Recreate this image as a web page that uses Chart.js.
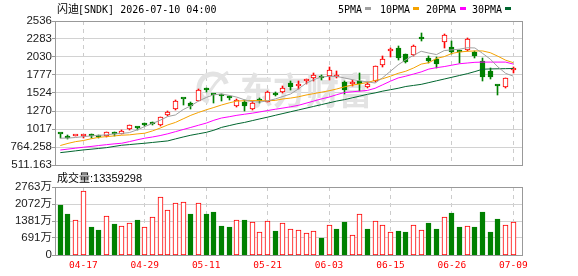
<!DOCTYPE html>
<html><head><meta charset="utf-8">
<script src="https://cdn.jsdelivr.net/npm/chart.js@4.4.1/dist/chart.umd.min.js"></script>
<style>
html,body{margin:0;padding:0;background:#fff;width:578px;height:276px;overflow:hidden}
#c1{position:absolute;left:0;top:0}
#c2{position:absolute;left:0;top:170px}
</style></head><body>
<canvas id="c1" width="578" height="176"></canvas>
<canvas id="c2" width="578" height="106"></canvas>
<script>
const dates = ["04-14","04-15","04-16","04-17","04-20","04-21","04-22","04-23","04-24","04-27","04-28","04-29","04-30","05-01","05-04","05-05","05-06","05-07","05-08","05-11","05-12","05-13","05-14","05-15","05-18","05-19","05-20","05-21","05-22","05-26","05-27","05-28","05-29","06-01","06-02","06-03","06-04","06-05","06-08","06-09","06-10","06-11","06-12","06-15","06-16","06-17","06-18","06-22","06-23","06-24","06-25","06-26","06-29","06-30","07-01","07-02","07-06","07-07","07-08","07-09"];
const opens  = [953,920,918,912,922,912,920,950,953,1023,1032,1080,1113,1075,1221,1297,1440,1381,1414,1575,1500,1513,1458,1334,1400,1297,1440,1400,1522,1541,1664,1618,1690,1740,1760,1757,1755,1676,1655,1695,1613,1690,1913,2117,2160,2065,2051,2294,2019,2000,2245,2170,2120,2128,2100,1973,1830,1627,1605,1845];
const highs  = [953,935,922,935,944,930,972,977,1000,1075,1052,1108,1118,1190,1273,1428,1440,1400,1575,1597,1505,1515,1488,1435,1428,1405,1452,1547,1536,1620,1686,1697,1720,1800,1777,1884,1837,1693,1710,1800,1680,1910,2043,2160,2188,2075,2195,2362,2050,2030,2355,2260,2125,2290,2115,2010,1870,1640,1735,1895];
const lows   = [896,878,915,888,892,885,911,920,945,1005,1005,1065,1071,1061,1202,1287,1348,1297,1410,1531,1382,1418,1427,1330,1270,1284,1381,1395,1485,1527,1560,1573,1650,1695,1706,1706,1733,1510,1625,1555,1595,1672,1890,2035,1988,1945,2040,2255,1945,1880,2160,2065,1942,2110,2015,1692,1720,1490,1600,1810];
const closes = [948,896,922,915,918,905,970,944,990,1071,1028,1076,1090,1188,1263,1414,1433,1344,1569,1565,1490,1475,1452,1428,1334,1381,1405,1541,1494,1593,1605,1650,1697,1770,1730,1851,1765,1572,1672,1645,1650,1900,2007,2125,2010,1957,2188,2285,1975,1925,2335,2105,2095,2283,2045,1752,1746,1620,1730,1865];
const ma5  = [888,890,898,910,920,928,935,948,955,967,1005,1052,1095,1140,1193,1215,1290,1344,1410,1460,1500,1509,1490,1465,1428,1400,1396,1414,1440,1475,1510,1580,1660,1710,1750,1757,1757,1735,1712,1696,1680,1664,1740,1830,1920,1990,2054,2110,2085,2064,2120,2130,2140,2160,2157,2080,2000,1890,1800,1760];
const ma10 = [785,815,840,855,880,900,910,920,930,935,948,958,990,1030,1075,1110,1160,1210,1250,1287,1320,1355,1385,1410,1415,1418,1416,1414,1420,1440,1452,1470,1495,1515,1535,1555,1580,1610,1635,1650,1673,1700,1725,1760,1800,1830,1875,1930,1950,2010,2035,2080,2100,2110,2115,2115,2090,2040,1985,1950];
const ma20 = [722,735,748,761,772,785,797,808,817,840,865,888,905,925,950,980,1010,1040,1070,1100,1140,1172,1190,1210,1225,1240,1258,1277,1295,1312,1330,1350,1380,1410,1440,1466,1500,1530,1540,1550,1560,1590,1640,1690,1735,1760,1790,1820,1860,1880,1895,1915,1935,1945,1955,1958,1958,1958,1958,1930];
const ma30 = [685,697,710,723,733,744,755,772,789,798,808,817,828,839,850,878,905,930,950,970,1000,1040,1065,1090,1110,1135,1160,1184,1210,1235,1260,1285,1310,1335,1360,1385,1410,1430,1455,1480,1505,1525,1550,1570,1590,1615,1630,1645,1670,1695,1720,1745,1770,1795,1825,1858,1862,1864,1866,1868];
const volumes = [2031,1666,1409,2587,1138,1016,1571,1260,1165,1287,1422,1138,1531,2343,1815,2100,2141,1666,2100,1666,1747,1178,1138,1409,1422,1328,922,1369,975,1287,1044,1003,882,963,691,1207,1056,1341,800,1654,1056,1369,1207,922,975,935,1207,1003,1300,1056,1531,1707,1138,1165,1138,1747,935,1463,1207,1336];
const volumeUp = [0,0,1,1,0,0,1,0,1,1,0,1,1,1,1,1,1,0,1,0,0,0,0,1,0,1,1,1,0,1,1,1,1,1,0,1,0,0,1,1,0,1,1,1,0,0,1,1,0,0,1,0,0,1,0,0,0,0,1,1];
const priceTicks = [2536,2283,2030,1777,1524,1270,1017,764.258,511.163];
const volumeTicks = [0,691,1381,2072,2763];
const dateTickIdx = [3,11,19,27,35,43,51,59];
const maNames = ['5PMA','10PMA','20PMA','30PMA'];
const titleText = ['闪迪','[SNDK] 2026-07-10 04:00'];
const volumeTitle = '成交量:13359298';

const RED = '#ff0000', GREEN = '#008000';
const MA_COLORS = ['#a0a0a0','#f5a200','#ff00ff','#00662f'];
const FRAME = '#999999';
const idx = dates.map((d,i)=>i);
const up = idx.map(i => closes[i] >= opens[i]);
const XMIN = -0.56, XMAX = 60.13;

const snapPlugin = {
  id:'snap',
  afterDatasetsUpdate(chart){
    chart.data.datasets.forEach((ds, di) => {
      const meta = chart.getDatasetMeta(di);
      if (meta.type !== 'bar') return;
      meta.data.forEach(el => {
        el.x = Math.floor(el.x) + 0.5;
        el.y = Math.round(el.y);
        el.base = Math.round(el.base);
      });
    });
  }
};
const framePlugin = {
  id:'frame',
  beforeDatasetsDraw(chart){
    const a = chart.chartArea, ctx = chart.ctx;
    ctx.save();
    ctx.strokeStyle = FRAME; ctx.lineWidth = 1;
    ctx.strokeRect(a.left-0.5, a.top+0.5, a.right-a.left+1, a.bottom-a.top);
    ctx.restore();
  }
};
const wmPlugin = {
  id:'wm',
  beforeDatasetsDraw(chart){
    const ctx = chart.ctx;
    ctx.save();
    ctx.fillStyle = '#e3e3e3';
    ctx.strokeStyle = '#e3e3e3';
    ctx.lineWidth = 5;
    ctx.beginPath(); ctx.arc(213, 88, 14, Math.PI*0.6, Math.PI*1.9); ctx.stroke();
    ctx.lineWidth = 3;
    ctx.beginPath(); ctx.moveTo(205, 100); ctx.quadraticCurveTo(215, 80, 228, 72); ctx.stroke();
    ctx.font = 'bold 33px "Noto Sans CJK SC"';
    ctx.textBaseline = 'middle'; ctx.textAlign = 'left';
    ctx.translate(240, 91); ctx.scale(1, 1.12);
    ctx.fillText('东方财富', 0, 0);
    ctx.restore();
  }
};
const titlePlugin = {
  id:'title1',
  afterDraw(chart){
    const ctx = chart.ctx;
    ctx.save();
    ctx.fillStyle = '#000'; ctx.textBaseline = 'alphabetic'; ctx.textAlign='left';
    ctx.font = '11px "Noto Sans CJK SC"';
    ctx.fillText(titleText[0], 57, 13);
    ctx.font = '10px "DejaVu Sans Mono"';
    ctx.fillText(titleText[1], 78, 12.5);
    const tx = [338, 380, 426, 472], sx = [365, 413, 460, 505];
    maNames.forEach((n,i)=>{
      ctx.fillStyle = '#000';
      ctx.fillText(n, tx[i], 12.5);
      ctx.fillStyle = MA_COLORS[i];
      ctx.fillRect(sx[i], 7, 6, 3);
    });
    ctx.restore();
  }
};
const volTitlePlugin = {
  id:'title2',
  afterDraw(chart){
    const ctx = chart.ctx;
    ctx.save();
    ctx.fillStyle = '#000'; ctx.textBaseline = 'alphabetic'; ctx.textAlign='left';
    ctx.font = '11px "Liberation Sans","Noto Sans CJK SC"';
    ctx.fillText(volumeTitle, 57, 12);
    ctx.restore();
  }
};

const maSets = [ma5, ma10, ma20, ma30].map((arr,k)=>({
  type:'line', label: maNames[k], data: idx.map(i=>({x:i, y:arr[i]})),
  borderColor: MA_COLORS[k], borderWidth:1, pointRadius:0, tension:0, order:0
}));

new Chart(document.getElementById('c1'), {
  type:'bar',
  data:{ datasets:[
    ...maSets,
    { type:'bar', label:'body', data: idx.map(i=>({x:i, y:[opens[i], closes[i]]})),
      backgroundColor: idx.map(i=> up[i] ? '#ffffff' : GREEN),
      borderColor: idx.map(i=> up[i] ? RED : GREEN),
      borderWidth:1, borderSkipped:false, barThickness:5, grouped:false, minBarLength:2, order:1 },
    { type:'bar', label:'wick', data: idx.map(i=>({x:i, y:[lows[i], highs[i]]})),
      backgroundColor: idx.map(i=> up[i] ? RED : GREEN),
      borderWidth:0, barThickness:1, grouped:false, order:2 }
  ]},
  options:{
    responsive:false, animation:false, devicePixelRatio:1,
    layout:{ padding:{ top:21, right:56, left:0, bottom:0 } },
    plugins:{ legend:{display:false}, tooltip:{enabled:false} },
    scales:{
      x:{ type:'linear', min:XMIN, max:XMAX, offset:false,
        afterBuildTicks: s => { s.ticks = dateTickIdx.map(v=>({value:v})); },
        afterFit: s => { s.height = 11; },
        ticks:{ display:false },
        grid:{ color:'#cccccc', drawTicks:false, offset:false },
        border:{ display:false, dash:[4,4] } },
      y:{ min:511.163, max:2536,
        afterBuildTicks: s => { s.ticks = priceTicks.map(v=>({value:v})); },
        afterFit: s => { s.width = 56; },
        ticks:{ autoSkip:false, padding:0, color:'#1a1a1a',
          font:{ family:'"Liberation Sans"', size:11.5 }, callback: v => String(v) },
        grid:{ color:'#d2d2d2', tickColor:FRAME, tickLength:4 },
        border:{ display:false } }
    }
  },
  plugins:[snapPlugin, wmPlugin, framePlugin, titlePlugin]
});

new Chart(document.getElementById('c2'), {
  type:'bar',
  data:{ datasets:[
    { label:'volume', data: idx.map(i=>({x:i, y:volumes[i]})),
      backgroundColor: idx.map(i=> volumeUp[i] ? '#ffffff' : GREEN),
      borderColor: idx.map(i=> volumeUp[i] ? RED : GREEN),
      borderWidth:1, borderSkipped:false, barThickness:5, grouped:false }
  ]},
  options:{
    responsive:false, animation:false, devicePixelRatio:1,
    layout:{ padding:{ top:17, right:56, left:0, bottom:0 } },
    plugins:{ legend:{display:false}, tooltip:{enabled:false} },
    scales:{
      x:{ type:'linear', min:XMIN, max:XMAX, offset:false,
        afterBuildTicks: s => { s.ticks = dateTickIdx.map(v=>({value:v})); },
        afterFit: s => { s.height = 21; },
        ticks:{ autoSkip:false, maxRotation:0, padding:5, color:RED,
          font:{ family:'"DejaVu Sans Mono"', size:9.5 }, callback: v => dates[v] },
        grid:{ color:'#cccccc', drawTicks:false, offset:false },
        border:{ display:false, dash:[4,4] } },
      y:{ min:0, max:2763,
        afterBuildTicks: s => { s.ticks = volumeTicks.map(v=>({value:v})); },
        afterFit: s => { s.width = 56; },
        ticks:{ autoSkip:false, padding:0, color:'#1a1a1a',
          font:{ family:'"Liberation Sans","Noto Sans CJK SC"', size:11.5 },
          callback: v => v === 0 ? '0' : v + '万' },
        grid:{ color:'#d2d2d2', tickColor:FRAME, tickLength:4 },
        border:{ display:false } }
    }
  },
  plugins:[snapPlugin, framePlugin, volTitlePlugin]
});
</script>
</body></html>
